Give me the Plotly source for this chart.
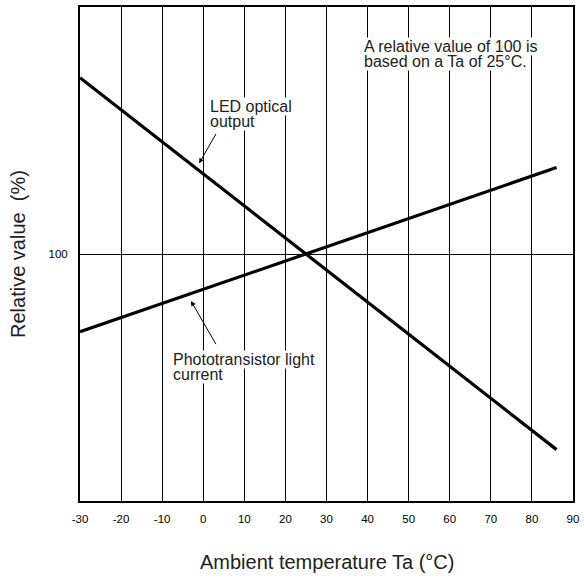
import plotly.graph_objects as go

# Data
temps = [-30, 0, 25, 50, 86]
led_output = [171.4, 132.5, 100, 67.5, 20.8]
photo_current = [68.5, 85.7, 100, 114.3, 135.0]
x_ticks = [-30, -20, -10, 0, 10, 20, 30, 40, 50, 60, 70, 80, 90]
y_ticks = [100]

FONT = "Liberation Sans, Arial, Helvetica, sans-serif"
TXT = "#222222"

fig = go.Figure()
fig.add_trace(go.Scatter(x=temps, y=led_output, mode="lines",
                         line=dict(color="black", width=3.2), showlegend=False,
                         name="LED optical output"))
fig.add_trace(go.Scatter(x=temps, y=photo_current, mode="lines",
                         line=dict(color="black", width=3.2), showlegend=False,
                         name="Phototransistor light current"))

fig.update_xaxes(range=[-30, 90], tickvals=x_ticks, ticktext=[str(v) for v in x_ticks],
                 showgrid=True, gridcolor="black", gridwidth=1, zeroline=False,
                 showline=True, linecolor="black", linewidth=2, mirror=True,
                 ticks="", ticklabelstandoff=6,
                 tickfont=dict(family=FONT, size=11.5, color="black"))
fig.update_yaxes(range=[0, 200], tickvals=y_ticks, ticktext=["100"],
                 showgrid=True, gridcolor="black", gridwidth=1, zeroline=False,
                 showline=True, linecolor="black", linewidth=2, mirror=True,
                 ticks="", ticklabelstandoff=8,
                 tickfont=dict(family=FONT, size=11.5, color="black"))

anns = []
def txt(x, y, s):
    anns.append(dict(x=x, y=y, xref="x", yref="y", text=s, showarrow=False,
                     xanchor="left", yanchor="bottom", bgcolor="white", borderpad=0,
                     font=dict(family=FONT, size=16, color=TXT)))

# LED optical output
txt(1.4, 155.8, "LED optical")
txt(1.4, 150.0, "output")
# Note
txt(38.8, 180.0, "A relative value of 100 is")
txt(38.8, 173.9, "based on a Ta of 25°C.")
# Phototransistor
txt(-7.5, 53.6, "Phototransistor light")
txt(-7.5, 47.5, "current")

# arrows
anns.append(dict(x=-1.0, y=136.7, ax=3.3, ay=149.2, xref="x", yref="y", axref="x", ayref="y",
                 text="", showarrow=True, arrowhead=2, arrowsize=1, arrowwidth=1, arrowcolor="black"))
anns.append(dict(x=-3.0, y=81.0, ax=3.3, ay=62.9, xref="x", yref="y", axref="x", ayref="y",
                 text="", showarrow=True, arrowhead=2, arrowsize=1, arrowwidth=1, arrowcolor="black"))

# axis titles
anns.append(dict(x=0.5, y=0, xref="paper", yref="paper", yshift=-61, text="Ambient temperature Ta (°C)",
                 showarrow=False, xanchor="center", yanchor="middle",
                 font=dict(family=FONT, size=20, color=TXT)))
anns.append(dict(x=0, y=0.5, xref="paper", yref="paper", xshift=-62, text="Relative value  (%)",
                 showarrow=False, xanchor="center", yanchor="middle", textangle=-90,
                 font=dict(family=FONT, size=20, color=TXT)))

fig.update_layout(width=584, height=578, margin=dict(l=80, r=7, t=5, b=77),
                  plot_bgcolor="white", paper_bgcolor="white", annotations=anns)

fig.write_html("out.html", config={"displayModeBar": False},
               post_script="document.body.style.margin='0';document.body.style.overflow='hidden';")
